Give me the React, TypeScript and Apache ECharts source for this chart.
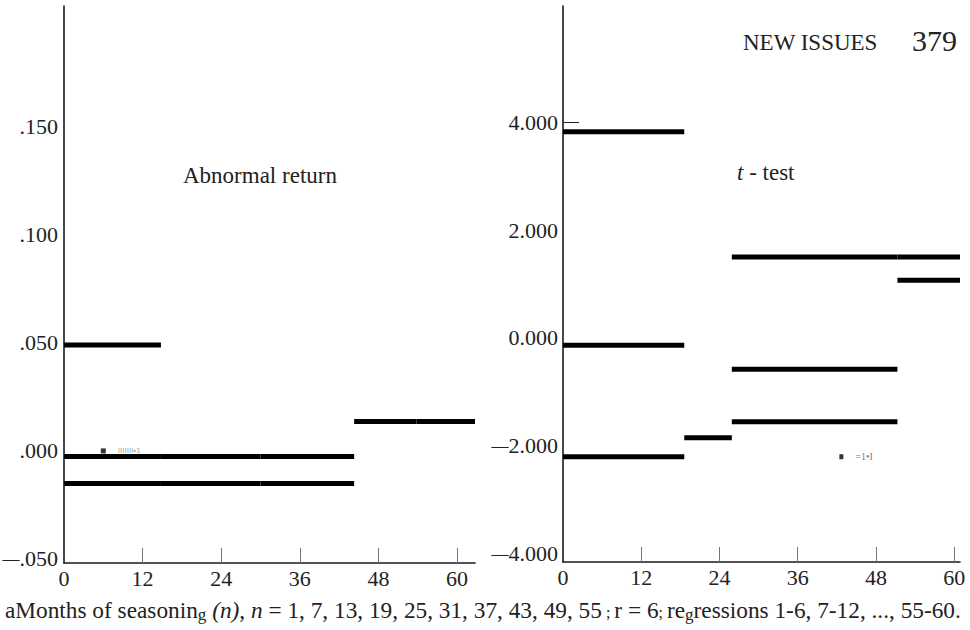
import React, { useEffect, useRef } from "react";
import * as echarts from "echarts";

// ---- data ----
const monthLabels = [0, 12, 24, 36, 48, 60];
const monthTicks = [12, 24, 36, 48, 60];

const leftYTicks = [-0.05, 0, 0.05, 0.1, 0.15];
const leftYLabels = ["{d|—}.050", ".000", ".050", ".100", ".150"];
const rightYTicks = [-4, -2, 0, 2, 4];
const rightYLabels = ["{d|—}4.000", "{d|—}2.000", "0.000", "2.000", "4.000"];

// Abnormal return segments (months from / to, value)
const arStart = [0, 0, 14.8, 30, 0, 14.8, 30, 44.3, 53.8];
const arEnd = [14.8, 14.8, 30, 44.3, 14.8, 30, 44.3, 53.8, 62.75];
const arValue = [0.049, -0.0026, -0.0026, -0.0026, -0.0151, -0.0151, -0.0151, 0.0136, 0.0136];

// t-test segments
const tStart = [0, 0, 0, 18.6, 25.9, 51.3, 51.3, 25.9, 25.9];
const tEnd = [18.6, 18.6, 18.6, 25.9, 51.3, 60.9, 60.9, 51.3, 51.3];
const tValue = [3.82, -0.135, -2.2, -1.85, 1.5, 1.5, 1.07, -0.58, -1.55];

// small scanned marks
const arMarkX = [6];
const arMarkY = [0.0];
const tMarkX = [42.7];
const tMarkY = [-2.2];

const SERIF = "Liberation Serif";
const dashRich = { d: { fontFamily: SERIF, fontSize: 17, color: "#222" } };

function segments(starts: number[], ends: number[], values: number[], idx: number) {
  return starts.map((s, i) => ({
    type: "line",
    xAxisIndex: idx,
    yAxisIndex: idx,
    data: [
      [s, values[i]],
      [ends[i], values[i]],
    ],
    symbol: "none",
    silent: true,
    z: 3,
    lineStyle: { color: "#000", width: 5, cap: "butt" },
  }));
}

function xAxis(idx: number, max: number) {
  return {
    gridIndex: idx,
    type: "value",
    min: 0,
    max,
    splitLine: { show: false },
    axisLine: { show: true, onZero: false, lineStyle: { color: "#1a1a1a", width: 1.6 } },
    axisTick: {
      show: true,
      inside: true,
      length: 15,
      customValues: monthTicks,
      lineStyle: { color: "#777", width: 1 },
    },
    axisLabel: {
      customValues: monthLabels,
      margin: 4,
      fontFamily: SERIF,
      fontSize: 22,
      color: "#222",
    },
  };
}

export default function App() {
  const ref = useRef<HTMLDivElement>(null);

  useEffect(() => {
    document.body.style.margin = "0";
    if (!ref.current) return;
    const chart = echarts.init(ref.current, null, { renderer: "svg" });

    const option: any = {
      animation: false,
      backgroundColor: "#fff",
      textStyle: { fontFamily: SERIF },
      grid: [
        { left: 64, top: 6, width: 411, height: 557, outerBoundsMode: "none", containLabel: false },
        { left: 563, top: 6, width: 397, height: 556, outerBoundsMode: "none", containLabel: false },
      ],
      xAxis: [xAxis(0, 62.75), xAxis(1, 60.9)],
      yAxis: [
        {
          gridIndex: 0,
          type: "value",
          min: -0.0519,
          max: 0.206,
          splitLine: { show: false },
          axisLine: { show: true, onZero: false, lineStyle: { color: "#1a1a1a", width: 1.6 } },
          axisTick: { show: false },
          axisLabel: {
            customValues: leftYTicks,
            margin: 6,
            fontFamily: SERIF,
            fontSize: 22,
            color: "#222",
            rich: dashRich,
            formatter: (v: number) => leftYLabels[leftYTicks.findIndex((t) => Math.abs(t - v) < 1e-9)] ?? "",
          },
        },
        {
          gridIndex: 1,
          type: "value",
          min: -4.15,
          max: 6.15,
          splitLine: { show: false },
          axisLine: { show: true, onZero: false, lineStyle: { color: "#1a1a1a", width: 1.6 } },
          axisTick: {
            show: true,
            inside: true,
            length: 16,
            customValues: [4],
            lineStyle: { color: "#222", width: 1 },
          },
          axisLabel: {
            customValues: rightYTicks,
            margin: 5,
            fontFamily: SERIF,
            fontSize: 22,
            color: "#222",
            rich: dashRich,
            formatter: (v: number) => rightYLabels[rightYTicks.findIndex((t) => Math.abs(t - v) < 1e-9)] ?? "",
          },
        },
      ],
      series: [
        ...segments(arStart, arEnd, arValue, 0),
        ...segments(tStart, tEnd, tValue, 1),
        {
          type: "scatter",
          xAxisIndex: 0,
          yAxisIndex: 0,
          silent: true,
          symbol: "rect",
          symbolSize: [5, 5],
          itemStyle: { color: "#000" },
          data: arMarkX.map((x, i) => [x, arMarkY[i]]),
          label: {
            show: true,
            position: "right",
            distance: 12,
            formatter: "IIIIIII•1",
            fontSize: 8,
            fontFamily: "Liberation Sans",
            color: "#888",
          },
        },
        {
          type: "scatter",
          xAxisIndex: 1,
          yAxisIndex: 1,
          silent: true,
          symbol: "rect",
          symbolSize: [4, 5],
          itemStyle: { color: "#000" },
          data: tMarkX.map((x, i) => [x, tMarkY[i]]),
          label: {
            show: true,
            position: "right",
            distance: 12,
            formatter: "=1•I",
            fontSize: 10,
            fontFamily: SERIF,
            color: "#555",
          },
        },
      ],
      graphic: [
        {
          type: "text",
          left: 183,
          top: 164,
          style: { text: "Abnormal return", fontFamily: SERIF, fontSize: 23, fill: "#222" },
        },
        {
          type: "text",
          left: 737,
          top: 161,
          style: {
            text: "{i|t} - test",
            fontFamily: SERIF,
            fontSize: 23,
            fill: "#222",
            rich: { i: { fontStyle: "italic", fontFamily: SERIF, fontSize: 23 } },
          },
        },
        {
          type: "text",
          left: 743,
          top: 31,
          style: { text: "NEW ISSUES", fontFamily: SERIF, fontSize: 23, fill: "#222" },
        },
        {
          type: "text",
          right: 13,
          top: 25,
          style: { text: "379", fontFamily: SERIF, fontSize: 30, fill: "#222" },
        },
        {
          type: "text",
          left: 5,
          top: 598,
          style: {
            text:
              "aMonths of seasonin{sub|g} {i|(n)}, {i|n} = 1, 7, 13, 19, 25, 31, 37, 43, 49, 55{sm| ; }r = 6{sm|; }re{sub|g}ressions 1-6, 7-12, ..., 55-60.",
            fontFamily: SERIF,
            fontSize: 23.3,
            fill: "#222",
            rich: {
              sub: { fontSize: 17, fontFamily: SERIF, padding: [10, 0, 0, 0] },
              i: { fontStyle: "italic", fontFamily: SERIF, fontSize: 23.3 },
              sm: { fontSize: 16, fontFamily: SERIF, padding: [6, 0, 0, 0] },
            },
          },
        },
      ],
    };

    chart.setOption(option);
    return () => chart.dispose();
  }, []);

  return <div ref={ref} style={{ width: 970, height: 630 }} />;
}
